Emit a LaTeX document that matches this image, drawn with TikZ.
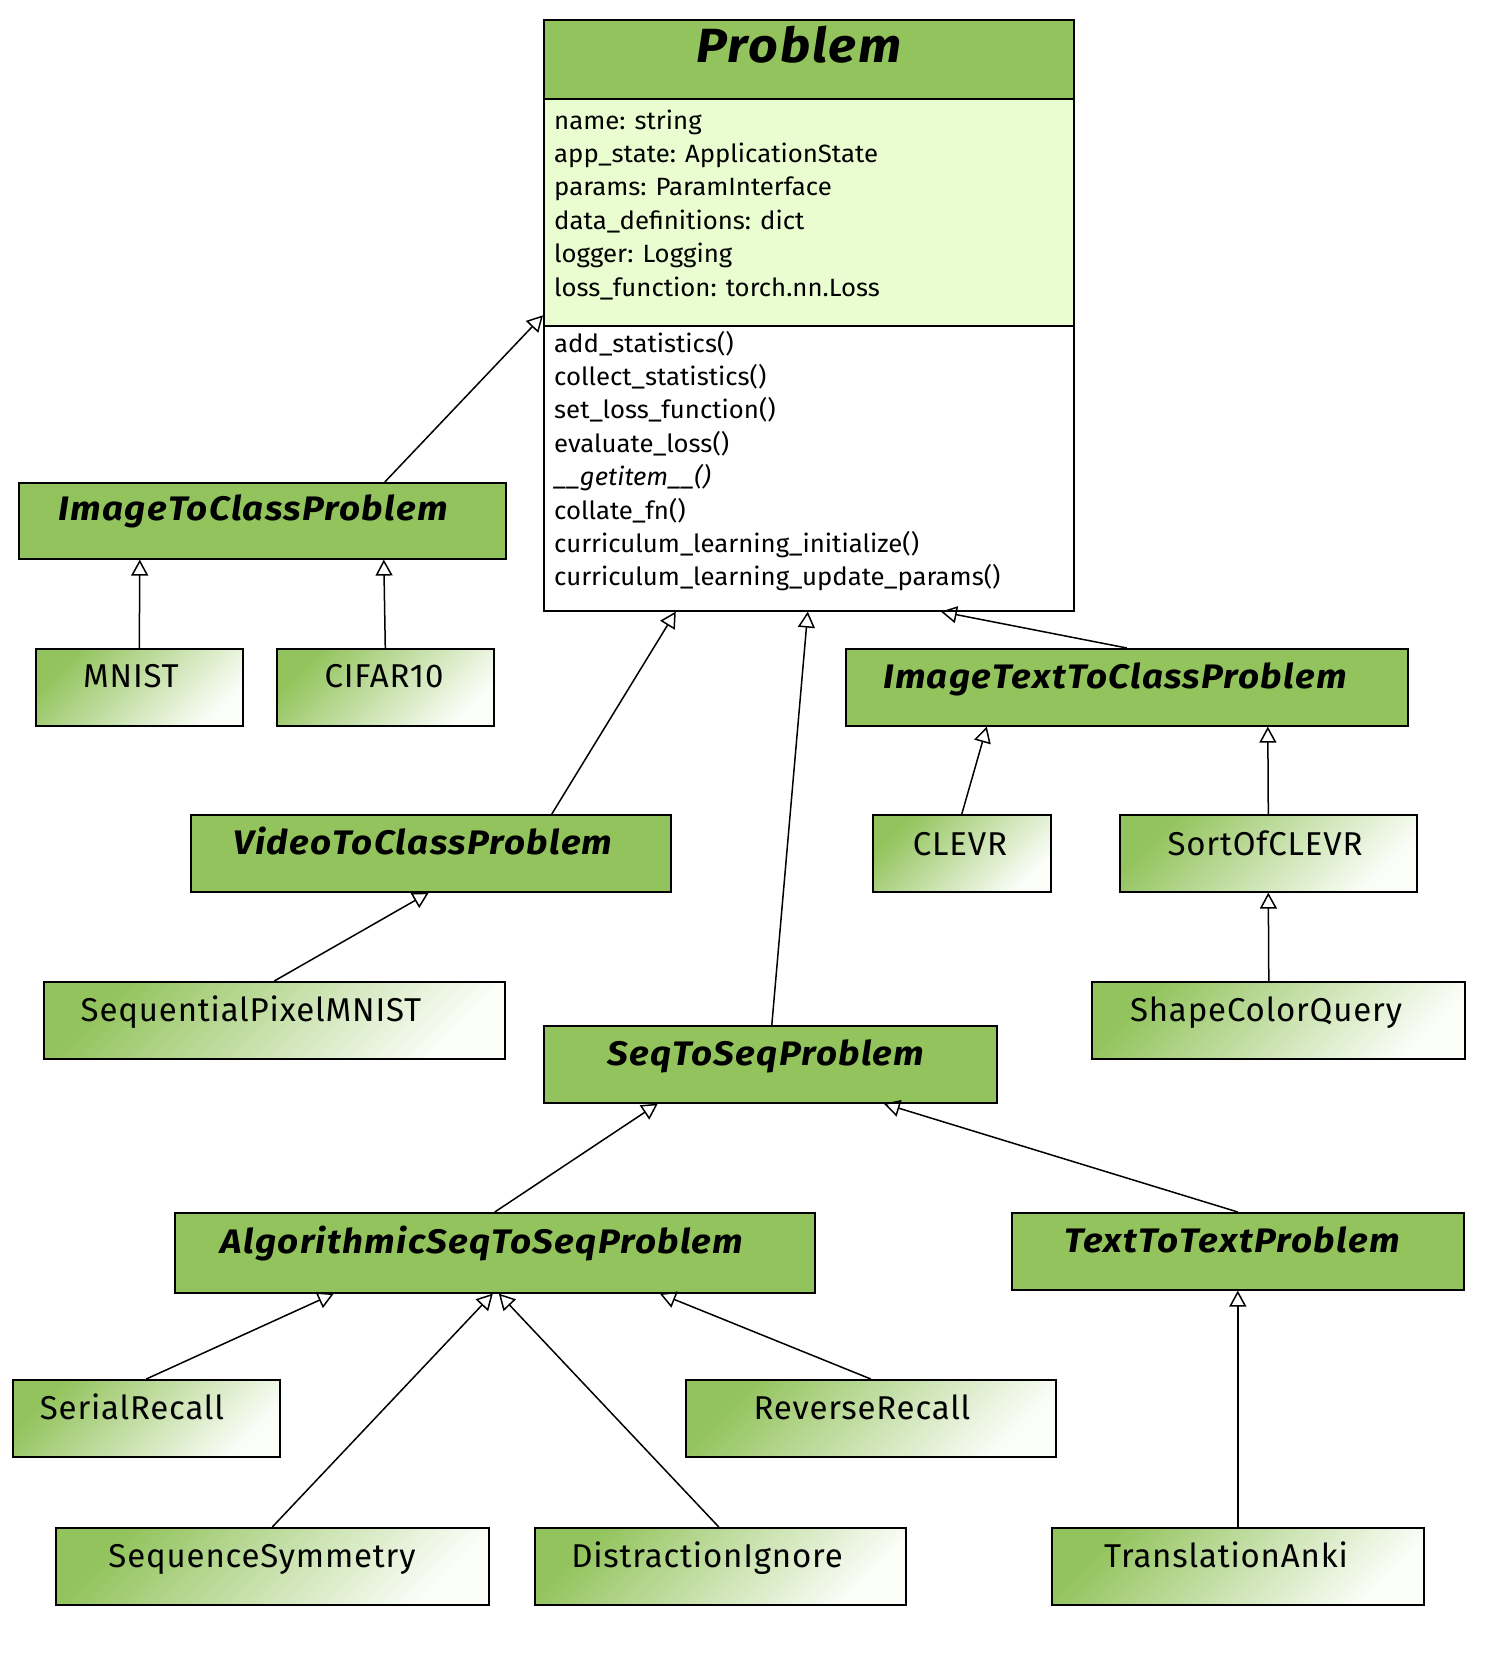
\documentclass[tikz,border=0pt]{standalone}
\usepackage{fontspec}
\setmainfont{Fira Sans}
\newfontfamily\memberfont{Fira Sans}[FakeStretch=1.03]
\newfontfamily\headfont{Fira Sans}[FakeStretch=1.08, LetterSpace=4]
\newfontfamily\leaffont{Fira Sans}[LetterSpace=2.5]
\usetikzlibrary{arrows.meta}

\definecolor{classgreen}{HTML}{92C35C}
\definecolor{attrfill}{HTML}{EAFDD0}
\definecolor{fadewhite}{HTML}{FBFDF8}

\begin{document}
\begin{tikzpicture}[x=1pt, y=-1pt,
  box/.style={draw=black, line width=1.6pt, inner sep=0pt, anchor=north west},
  abstractbox/.style={box, fill=classgreen},
  concretebox/.style={box, top color=classgreen, bottom color=fadewhite, shading angle=45},
  abstractname/.style={inner sep=0pt, anchor=base, font=\headfont\fontsize{34}{40}\selectfont\bfseries\itshape},
  concretename/.style={inner sep=0pt, anchor=base, font=\leaffont\fontsize{33}{40}\selectfont},
  member/.style={inner sep=0pt, anchor=base west, font=\memberfont\fontsize{25}{30}\selectfont},
  extends/.style={draw=black, line width=1.5pt, -{Triangle[open, length=16pt, width=17pt, line width=1.5pt]}},
]
\fill[white] (0,0) rectangle (1497,1654);
\useasboundingbox (0,0) rectangle (1497,1654);

% ---- Problem: header, attributes, operations ----
\node[box, fill=classgreen, minimum width=530, minimum height=79] (probhead) at (543,19) {};
\node[box, fill=attrfill, minimum width=530, minimum height=227] (probattr) at (543,98) {};
\node[box, fill=white, minimum width=530, minimum height=285] (probops) at (543,325) {};
\node[box, minimum width=530, minimum height=591] (problem) at (543,19) {};
\node[inner sep=0pt, anchor=base, font=\headfont\fontsize{48}{58}\selectfont\bfseries\itshape] (problem-t) at (799,63) {Problem};

\foreach \txt [count=\i from 0] in {name: string, app\_state: ApplicationState, params: ParamInterface, data\_definitions: dict, logger: Logging, loss\_function: torch.nn.Loss}
  \node[member] (attr\i) at (554,{129+33.4*\i}) {\txt};

\foreach \txt [count=\i from 0] in {add\_statistics(), collect\_statistics(), set\_loss\_function(), evaluate\_loss(), \textit{\_\_getitem\_\_()}, collate\_fn(), curriculum\_learning\_initialize(), curriculum\_learning\_update\_params()}
  \node[member] (op\i) at (554,{352+33.4*\i}) {\txt};

% ---- abstract problem classes ----
\node[abstractbox, minimum width=487, minimum height=76] (itc) at (18,482) {};
\node[abstractname] (itc-t) at (253,520) {ImageToClassProblem};

\node[abstractbox, minimum width=562, minimum height=77] (itt) at (845,648) {};
\node[abstractname] (itt-t) at (1115,688) {ImageTextToClassProblem};

\node[abstractbox, minimum width=480, minimum height=77] (vtc) at (190,814) {};
\node[abstractname] (vtc-t) at (423,854) {VideoToClassProblem};

\node[abstractbox, minimum width=453, minimum height=77] (s2s) at (543,1025) {};
\node[abstractname] (s2s-t) at (766,1065) {SeqToSeqProblem};

\node[abstractbox, minimum width=640, minimum height=80] (alg) at (174,1212) {};
\node[abstractname] (alg-t) at (482,1253) {AlgorithmicSeqToSeqProblem};

\node[abstractbox, minimum width=452, minimum height=77] (t2t) at (1011,1212) {};
\node[abstractname] (t2t-t) at (1232,1252) {TextToTextProblem};

% ---- concrete problems ----
\node[concretebox, minimum width=207, minimum height=77] (mnist) at (35,648) {};
\node[concretename] (mnist-t) at (131,687) {MNIST};

\node[concretebox, minimum width=217, minimum height=77] (cifar) at (276,648) {};
\node[concretename] (cifar-t) at (384,687) {CIFAR10};

\node[concretebox, minimum width=178, minimum height=77] (clevr) at (872,814) {};
\node[concretename] (clevr-t) at (960,855) {CLEVR};

\node[concretebox, minimum width=297, minimum height=77] (sortof) at (1119,814) {};
\node[concretename] (sortof-t) at (1265,855) {SortOfCLEVR};

\node[concretebox, minimum width=461, minimum height=77] (spm) at (43,981) {};
\node[concretename] (spm-t) at (251,1021) {SequentialPixelMNIST};

\node[concretebox, minimum width=373, minimum height=77] (scq) at (1091,981) {};
\node[concretename] (scq-t) at (1266,1021) {ShapeColorQuery};

\node[concretebox, minimum width=267, minimum height=77] (serial) at (12,1379) {};
\node[concretename] (serial-t) at (132,1419) {SerialRecall};

\node[concretebox, minimum width=370, minimum height=77] (reverse) at (685,1379) {};
\node[concretename] (reverse-t) at (862,1419) {ReverseRecall};

\node[concretebox, minimum width=433, minimum height=77] (symm) at (55,1527) {};
\node[concretename] (symm-t) at (262,1567) {SequenceSymmetry};

\node[concretebox, minimum width=371, minimum height=77] (distr) at (534,1527) {};
\node[concretename] (distr-t) at (707,1567) {DistractionIgnore};

\node[concretebox, minimum width=372, minimum height=77] (anki) at (1051,1527) {};
\node[concretename] (anki-t) at (1226,1567) {TranslationAnki};

% ---- inheritance ----
\draw[extends] ([xshift=122.5]itc.north) -- (problem.west);
\draw[extends] (mnist.north) -- ([xshift=-122.5]itc.south);
\draw[extends] (cifar.north) -- ([xshift=121.5]itc.south);
\draw[extends] ([xshift=121]vtc.north) -- ([xshift=-133]problem.south);
\draw[extends] ([xshift=1.5]s2s.north) -- ([xshift=-1]problem.south);
\draw[extends] (itt.north) -- ([xshift=132]problem.south);
\draw[extends] (clevr.north) -- ([xshift=-140]itt.south);
\draw[extends] (sortof.north) -- ([xshift=141]itt.south);
\draw[extends] ([xshift=-9.5]scq.north) -- (sortof.south);
\draw[extends] (spm.north) -- ([xshift=-2]vtc.south);
\draw[extends] (alg.north) -- ([xshift=-112.5]s2s.south);
\draw[extends] (t2t.north) -- ([xshift=113.5]s2s.south);
\draw[extends] (serial.north) -- ([xshift=-161]alg.south);
\draw[extends] (symm.north) -- ([xshift=-2]alg.south);
\draw[extends] ([xshift=-1.5]distr.north) -- ([xshift=4]alg.south);
\draw[extends] (reverse.north) -- ([xshift=165]alg.south);
\draw[extends] (anki.north) -- (t2t.south);
\end{tikzpicture}
\end{document}
